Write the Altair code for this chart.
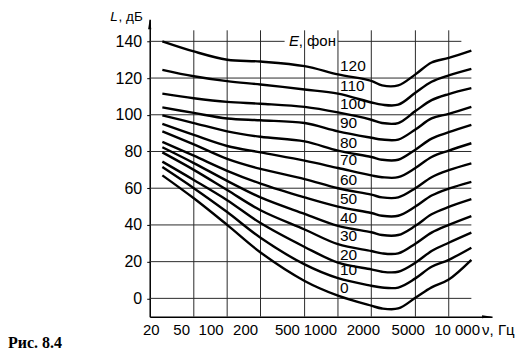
import altair as alt
import pandas as pd

# ---- data ----
FREQ = [26, 50, 100, 200, 500, 1000, 2000, 2500, 3500, 5000, 7000, 10000, 16000]

E0   = [67.0, 54.5, 40.0, 25.0, 9.5, 1.5, -4.0, -5.5, -5.5, 0.3, 6.0, 10.3, 21.0]
E10  = [71.5, 60.0, 47.0, 33.0, 18.5, 11.0, 6.9, 5.9, 5.9, 10.9, 17.2, 21.0, 27.6]
E20  = [74.5, 64.5, 53.5, 41.0, 28.0, 19.5, 15.8, 14.5, 14.5, 19.4, 25.8, 30.3, 35.8]
E30  = [79.5, 70.0, 59.0, 48.0, 37.5, 29.5, 25.8, 24.5, 24.5, 29.8, 35.8, 40.0, 44.8]
E40  = [82.3, 73.7, 64.0, 55.0, 46.0, 39.5, 36.0, 34.5, 34.5, 39.5, 45.8, 49.8, 54.0]
E50  = [85.2, 77.7, 69.5, 62.5, 55.0, 50.0, 46.5, 45.0, 45.0, 50.0, 56.0, 59.8, 63.5]
E60  = [91.0, 83.9, 76.0, 70.5, 65.0, 60.0, 56.5, 55.0, 55.0, 60.0, 66.0, 69.8, 73.5]
E70  = [95.0, 89.0, 83.0, 79.5, 75.0, 71.0, 67.0, 66.0, 66.0, 71.0, 77.0, 80.5, 84.5]
E80  = [99.7, 95.5, 91.0, 88.0, 85.5, 80.5, 77.0, 75.5, 75.5, 81.0, 87.0, 90.5, 94.5]
E90  = [104.0, 101.0, 98.0, 97.0, 95.5, 91.0, 87.5, 86.5, 86.5, 92.0, 98.0, 100.5, 104.3]
E100 = [111.5, 109.0, 107.0, 106.0, 104.3, 101.3, 97.3, 95.5, 95.5, 102.0, 108.0, 111.3, 114.5]
E110 = [124.5, 121.0, 118.3, 116.5, 113.8, 111.5, 106.7, 105.5, 105.5, 112.0, 118.0, 121.5, 125.0]
E120 = [140.0, 134.5, 130.0, 129.0, 126.5, 122.0, 118.5, 116.0, 116.0, 122.0, 128.5, 131.0, 135.0]

PHON = [0, 10, 20, 30, 40, 50, 60, 70, 80, 90, 100, 110, 120]
CURVES = [E0, E10, E20, E30, E40, E50, E60, E70, E80, E90, E100, E110, E120]

X_TICKS = [20, 50, 100, 200, 500, 1000, 2000, 5000, 10000]
Y_TICKS = [0, 20, 40, 60, 80, 100, 120, 140]

# extents of the drawn grid (data units)
F_MIN, F_GRID_END, F_AXIS_END = 20, 16000, 24600
L_MIN, L_GRID_TOP, L_AXIS_END = -10, 146, 152
GAP_START, GAP_END, TOP_LINE_END = 330, 1000, 13000

# ---- tables ----
rows = []
for p, vals in zip(PHON, CURVES):
    for f, v in zip(FREQ, vals):
        rows.append({"phon": p, "f": f, "L": v})
curves = pd.DataFrame(rows)

i1000 = FREQ.index(1000)
labels = pd.DataFrame({
    "f": [1000] * len(PHON),
    "L": [vals[i1000] for vals in CURVES],
    "text": [str(p) for p in PHON],
})

h_rows = [{"y": y, "x0": F_MIN, "x1": F_GRID_END} for y in Y_TICKS[:-1]]
h_rows += [{"y": Y_TICKS[-1], "x0": F_MIN, "x1": GAP_START},
           {"y": Y_TICKS[-1], "x0": GAP_END, "x1": TOP_LINE_END}]
hgrid = pd.DataFrame(h_rows)
vgrid = pd.DataFrame({"x": X_TICKS[1:], "y0": L_MIN, "y1": L_GRID_TOP})

# ---- scales / axes ----
FONT = "Liberation Sans"
label_shift = {20: 1, 50: -12.7, 100: -16.6, 200: -15.5, 500: -17.7,
               1000: -18.1, 2000: -8.5, 5000: -7.7, 10000: 7.9}

xscale = alt.Scale(type="log", domain=[F_MIN, F_AXIS_END], nice=False)
yscale = alt.Scale(domain=[L_MIN, L_AXIS_END], nice=False, zero=False)

x_axis = alt.Axis(
    values=X_TICKS, ticks=False, grid=False, domainColor="black", domainWidth=1.5,
    labelFont=FONT, labelFontSize=15, labelColor="black", labelPadding=6,
    labelFlush=False, labelOverlap=False,
    labelExpr="datum.value == 10000 ? '10 000' : format(datum.value, 'd')",
    labelOffset={"condition": [{"test": f"datum.value == {k}", "value": v}
                               for k, v in label_shift.items()], "value": 0},
    title=None,
)
y_axis = alt.Axis(
    values=Y_TICKS, grid=False, tickSize=3, tickColor="black", tickWidth=1,
    domainColor="black", domainWidth=1.5, labelFont=FONT, labelFontSize=16,
    labelColor="black", labelPadding=5, labelFlush=False, labelOverlap=False,
    format="d", title=None,
)


def X(field):
    return alt.X(field, type="quantitative", scale=xscale, axis=x_axis)


def Y(field):
    return alt.Y(field, type="quantitative", scale=yscale, axis=y_axis)


GRID = "#2a2a2a"

v_layer = alt.Chart(vgrid).mark_rule(color=GRID, strokeWidth=1).encode(
    x=X("x"), y=Y("y0"), y2="y1")
h_layer = alt.Chart(hgrid).mark_rule(color=GRID, strokeWidth=1).encode(
    x=X("x0"), x2="x1", y=Y("y"))

curve_layer = alt.Chart(curves).mark_line(
    color="black", strokeWidth=2.4, interpolate="catmull-rom").encode(
    x=X("f"), y=Y("L"), detail="phon:N")

label_layer = alt.Chart(labels).mark_text(
    align="left", baseline="alphabetic", dx=2, dy=-3, font=FONT, fontSize=15.5,
    color="black").encode(x=X("f"), y=Y("L"), text="text:N")

e_pos = pd.DataFrame({"f": [1000], "L": [140]})
e_rest = alt.Chart(e_pos).mark_text(
    align="right", baseline="middle", dx=-2, font=FONT, fontSize=15,
    color="black").encode(x=X("f"), y=Y("L"), text=alt.value(", фон"))
e_sym = alt.Chart(e_pos).mark_text(
    align="right", baseline="middle", dx=-39, font=FONT, fontSize=15,
    fontStyle="italic", color="black").encode(x=X("f"), y=Y("L"), text=alt.value("E"))

one = pd.DataFrame({"k": [0]})
ytitle_rest = alt.Chart(one).mark_text(
    align="right", baseline="alphabetic", font=FONT, fontSize=13.5, color="black").encode(
    x=alt.value(-7), y=alt.value(1.5), text=alt.value(", дБ"))
ytitle_sym = alt.Chart(one).mark_text(
    align="right", baseline="alphabetic", font=FONT, fontSize=13.5, fontStyle="italic",
    color="black").encode(x=alt.value(-32), y=alt.value(1.5), text=alt.value("L"))
xtitle = alt.Chart(one).mark_text(
    align="left", baseline="middle", font=FONT, fontSize=15, color="black").encode(
    x=alt.value(333), y=alt.value(311), text=alt.value("ν, Гц"))
caption = alt.Chart(one).mark_text(
    align="left", baseline="alphabetic", font="Liberation Serif", fontSize=16,
    fontWeight="bold", color="black").encode(
    x=alt.value(-142), y=alt.value(329), text=alt.value("Рис. 8.4"))

yarrow = alt.Chart(pd.DataFrame({"f": [F_MIN], "L": [149.3]})).mark_point(
    shape="M0,-1L0.32,1L-0.32,1Z", size=100, filled=True, color="black",
    opacity=1, strokeWidth=0).encode(x=X("f"), y=Y("L"))
xarrow = alt.Chart(pd.DataFrame({"f": [22180], "L": [L_MIN]})).mark_point(
    shape="M1,0L-1,-0.32L-1,0.32Z", size=100, filled=True, color="black",
    opacity=1, strokeWidth=0).encode(x=X("f"), y=Y("L"))

chart = alt.layer(
    v_layer, h_layer, curve_layer, label_layer, e_rest, e_sym,
    ytitle_rest, ytitle_sym, xtitle, caption, yarrow, xarrow,
).properties(
    width=343, height=298,
    autosize=alt.AutoSizeParams(type="none"),
    padding={"left": 142, "top": 11, "right": 30, "bottom": 33},
).configure_view(stroke=None)

chart.save("out.html", embed_options={"renderer": "svg", "actions": False})
